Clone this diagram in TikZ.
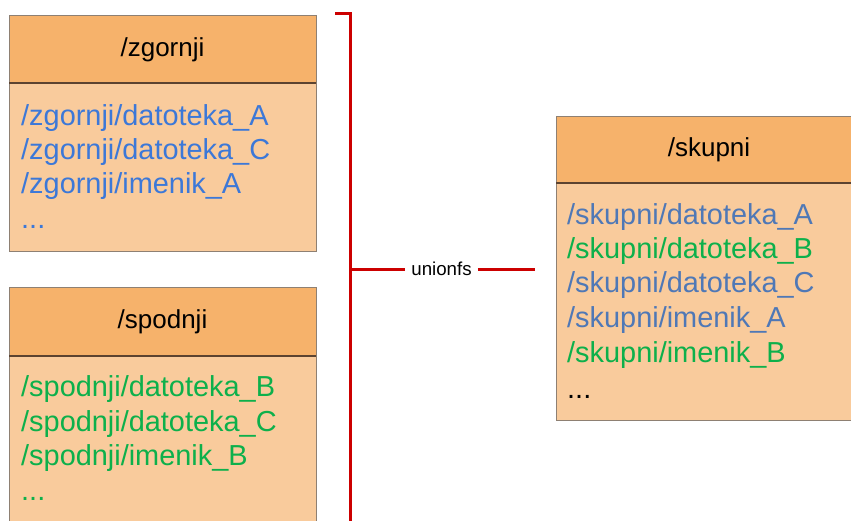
\documentclass[tikz,border=0pt]{standalone}
\usepackage{fontspec}
\setmainfont{Liberation Sans}
\begin{document}
\definecolor{headfill}{HTML}{F6B26B}
\definecolor{bodyfill}{HTML}{F9CB9C}
\definecolor{boxline}{HTML}{8E8073}
\definecolor{sepline}{HTML}{5C4330}
\definecolor{upblue}{HTML}{3C78D8}
\definecolor{mergeblue}{HTML}{4F78B6}
\definecolor{lowgreen}{HTML}{0DB04B}
\definecolor{linkred}{HTML}{CC0000}
\begin{tikzpicture}[x=1pt,y=-1pt,
  headbox/.style={fill=headfill,draw=boxline,line width=1pt},
  bodybox/.style={fill=bodyfill,draw=boxline,line width=1pt},
  headtext/.style={inner sep=0pt,font=\fontsize{26}{30}\selectfont},
  entry/.style={inner sep=0pt,anchor=base west,font=\fontsize{28.9}{34}\selectfont},
  link/.style={draw=linkred,line width=3pt}]
\useasboundingbox (0,0) rectangle (851,520);
\clip (0,0) rectangle (851,520);

% upper branch
\draw[bodybox] (9,83) rectangle (316,251);
\draw[headbox] (9,15) rectangle (316,83);
\draw[sepline,line width=1.2pt] (9,83) -- (316,83);
\node[headtext] (zgh) at (162.5,50) {/zgornji};
\node[entry,text=upblue] (zg1) at (21,125.5) {/zgornji/datoteka\_A};
\node[entry,text=upblue] (zg2) at (21,159.5) {/zgornji/datoteka\_C};
\node[entry,text=upblue] (zg3) at (21,193.5) {/zgornji/imenik\_A};
\node[entry,text=upblue] (zg4) at (21,228) {...};

% lower branch
\draw[bodybox] (9,356) rectangle (316,530);
\draw[headbox] (9,287) rectangle (316,356);
\draw[sepline,line width=1.2pt] (9,356) -- (316,356);
\node[headtext] (sph) at (162.5,322) {/spodnji};
\node[entry,text=lowgreen] (sp1) at (21,396.5) {/spodnji/datoteka\_B};
\node[entry,text=lowgreen] (sp2) at (21,431) {/spodnji/datoteka\_C};
\node[entry,text=lowgreen] (sp3) at (21,465.5) {/spodnji/imenik\_B};
\node[entry,text=lowgreen] (sp4) at (21,500) {...};

% merged view
\draw[bodybox] (556,183) rectangle (870,420);
\draw[headbox] (556,116) rectangle (870,183);
\draw[sepline,line width=1.2pt] (556,183) -- (870,183);
\node[headtext] (skh) at (709,150) {/skupni};
\node[entry,text=mergeblue] (sk1) at (567,224.5) {/skupni/datoteka\_A};
\node[entry,text=lowgreen]  (sk2) at (567,258.5) {/skupni/datoteka\_B};
\node[entry,text=mergeblue] (sk3) at (567,292.5) {/skupni/datoteka\_C};
\node[entry,text=mergeblue] (sk4) at (567,327) {/skupni/imenik\_A};
\node[entry,text=lowgreen]  (sk5) at (567,362) {/skupni/imenik\_B};
\node[entry] (sk6) at (567,398) {...};

% unionfs bracket
\coordinate (brtop) at (335,13);
\coordinate (brcorner) at (350,13);
\coordinate (brbottom) at (350,525);
\coordinate (brjoin) at (350,269);
\coordinate (brend) at (535,269);
\node[inner sep=0pt,font=\fontsize{18.7}{22}\selectfont] (ufs) at (441.5,269) {unionfs};
\draw[link] (brtop) -- (brcorner) -- (brbottom);
\draw[link] (brjoin) -- ([xshift=-6pt]ufs.west);
\draw[link] ([xshift=6pt]ufs.east) -- (brend);
\end{tikzpicture}
\end{document}
